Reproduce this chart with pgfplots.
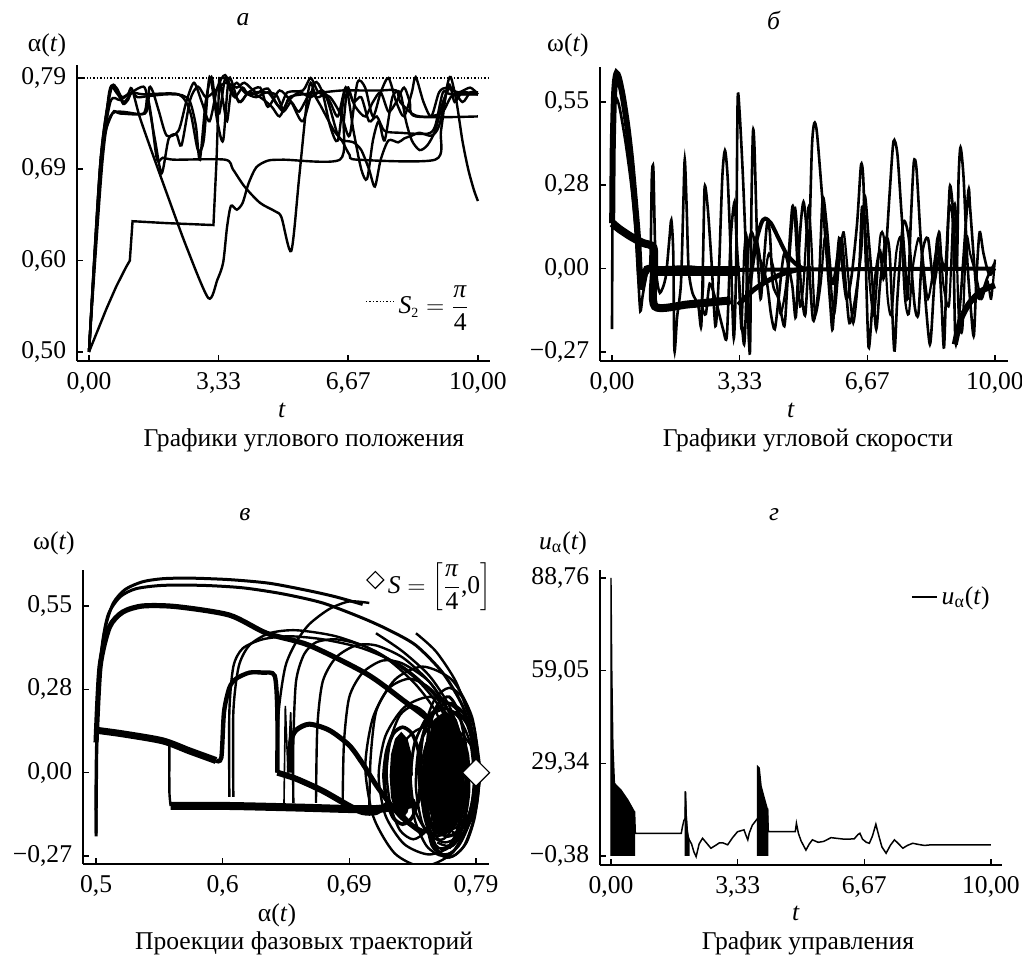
\documentclass[border=0pt]{standalone}
\usepackage{fontspec}
\setmainfont{Liberation Serif}
\usepackage{pgfplots}
\pgfplotsset{compat=1.18}

\pgfplotsset{
  panel/.style={
    scale only axis,
    axis lines*=left,
    axis line style={line width=0.8pt},
    tick align=inside,
    major tick length=3pt,
    tick style={line width=0.8pt, black},
    xticklabel style={yshift=-1.5pt},
    yticklabel style={xshift=-1pt},
    legend style={draw=none, fill=none, font=\fontsize{12.8}{15}\selectfont},
    legend cell align=left,
  },
  crv/.style={black, line width=1.2pt, smooth, tension=0.45, no markers},
}

\begin{document}
\fontsize{12.8}{15}\selectfont
\begin{tikzpicture}[font=\fontsize{12.8}{15}\selectfont]
\path[use as bounding box] (0,0) rectangle (511pt,478.5pt);

% ---------- а: angular position ----------
\begin{axis}[panel,
  at={(38.5pt,298pt)}, anchor=south west,
  width=206.5pt, height=148pt,
  xmin=-0.308, xmax=10.31, ymin=0.4906, ymax=0.7985,
  xtick={0,3.3333,6.6667,10}, xticklabels={{0,00},{3,33},{6,67},{10,00}},
  ytick={0.5,0.595,0.69,0.785}, yticklabels={{0,50},{0,60},{0,69},{0,79}},
  legend style={at={(0.975,0.2)}, anchor=east},
  legend image code/.code={\draw[#1] (0pt,0pt) -- (14pt,0pt);},
]
\addplot[densely dotted, line width=0.7pt] coordinates {(-0.15,0.785) (10.31,0.785)};
\addlegendentry{$\mbox{\textit{S}}_{\mbox{\scriptsize 2}}=\displaystyle\frac{\mbox{\textit{π}}}{\mbox{4}}$}
\addplot[crv] coordinates {(0,0.5) (0.25,0.66) (0.5,0.765) (0.63,0.778) (0.75,0.77) (0.88,0.758) (1.0,0.762) (1.1,0.77) (1.25,0.765) (1.5,0.766) (2.0,0.768) (2.4,0.767) (2.6,0.76) (2.75,0.735) (2.85,0.70) (3.0,0.76) (3.15,0.786) (3.25,0.76) (3.35,0.748) (3.5,0.785) (3.6,0.775) (3.75,0.765) (3.95,0.775) (4.1,0.768) (4.4,0.77) (4.8,0.768) (5.0,0.752) (5.15,0.765) (5.5,0.768) (6.0,0.77) (6.5,0.772) (7.0,0.772) (7.5,0.772) (7.9,0.772) (8.0,0.76) (8.3,0.748) (8.5,0.745) (8.8,0.745) (9.1,0.75) (9.3,0.765) (9.5,0.768) (10,0.768)};
\addplot[crv] coordinates {(0,0.5) (0.3,0.69) (0.55,0.76) (0.8,0.762) (1.0,0.768) (1.1,0.774) (1.3,0.745) (1.6,0.71) (2.0,0.665) (2.5,0.61) (3.07,0.556) (3.3,0.575) (3.45,0.593) (3.55,0.63) (3.65,0.652) (3.8,0.648) (3.95,0.655) (4.1,0.675) (4.3,0.692) (4.6,0.699) (5.0,0.70) (6.45,0.70) (6.55,0.74) (6.65,0.775) (6.8,0.76) (7.0,0.765) (7.2,0.74) (7.4,0.745) (7.6,0.73) (8.0,0.728) (8.7,0.727) (8.9,0.735) (9.1,0.77) (9.3,0.768) (10,0.768)};
\addplot[black, line width=1.2pt] coordinates {(0,0.5) (0.2,0.52) (0.45,0.545) (0.7,0.568) (0.95,0.588) (1.05,0.595) (1.12,0.636) (2.0,0.634) (3.2,0.632) (3.28,0.7) (3.35,0.786)};
\addplot[crv] coordinates {(3.35,0.786) (3.45,0.76) (3.55,0.74) (3.65,0.77) (3.8,0.78) (4.0,0.77) (4.3,0.765) (4.6,0.77) (4.9,0.755) (5.1,0.77) (5.5,0.772) (5.7,0.785) (5.9,0.77) (6.2,0.765) (6.5,0.745) (6.7,0.725) (6.9,0.78) (7.1,0.775) (7.3,0.745) (7.5,0.77) (7.7,0.785) (7.9,0.76) (8.1,0.745) (8.3,0.77) (8.4,0.786) (8.6,0.76) (8.8,0.745) (9.0,0.77) (9.2,0.775) (9.5,0.77) (9.8,0.775) (10,0.768)};
\addplot[crv] coordinates {(0,0.5) (0.3,0.7) (0.6,0.748) (0.8,0.748) (1.4,0.748) (1.5,0.765) (1.6,0.745) (1.75,0.7) (1.9,0.702) (2.2,0.70) (3.5,0.70) (3.7,0.69) (4.0,0.672) (4.4,0.655) (4.8,0.646) (4.95,0.64) (5.2,0.605) (5.4,0.68) (5.6,0.76) (5.7,0.78) (5.85,0.765) (6.1,0.765) (6.4,0.725) (6.55,0.72) (6.8,0.718) (7.0,0.71) (7.2,0.69) (7.35,0.672) (7.5,0.7) (7.7,0.72) (7.95,0.718) (8.1,0.722) (8.3,0.725) (8.5,0.728) (8.8,0.725) (9.0,0.735) (9.25,0.778) (9.4,0.76) (9.6,0.77) (10,0.768)};
\addplot[crv] coordinates {(0,0.5) (0.3,0.7) (0.55,0.772) (0.7,0.77) (0.9,0.76) (1.1,0.77) (1.4,0.776) (1.5,0.765) (1.7,0.72) (1.87,0.686) (2.05,0.722) (2.25,0.726) (2.38,0.715) (2.6,0.762) (2.8,0.776) (3.0,0.765) (3.2,0.77) (3.5,0.78) (3.8,0.775) (4.0,0.78) (4.3,0.77) (4.6,0.774) (4.8,0.76) (5.0,0.75) (5.2,0.76) (5.4,0.75) (5.7,0.77) (5.9,0.76) (6.1,0.745) (6.3,0.73) (6.5,0.72) (6.7,0.705) (6.9,0.70) (8.9,0.70) (9.05,0.73) (9.2,0.775) (9.3,0.786) (9.45,0.76) (9.6,0.72) (9.75,0.69) (9.9,0.668) (10,0.657)};
\addplot[crv] coordinates {(0,0.5) (0.35,0.7) (0.6,0.748) (1.44,0.748) (1.55,0.775) (1.65,0.77) (1.8,0.75) (2.0,0.725) (2.3,0.73) (2.5,0.76) (2.7,0.78) (2.9,0.76) (3.1,0.74) (3.3,0.775) (3.5,0.788) (3.7,0.77) (3.9,0.76) (4.1,0.77) (4.4,0.765) (4.7,0.755) (4.9,0.745) (5.1,0.76) (5.4,0.77) (5.7,0.765) (6.0,0.772) (6.2,0.76) (6.4,0.745) (6.6,0.775) (6.85,0.755) (7.1,0.745) (7.3,0.76) (7.5,0.77) (7.7,0.75) (7.9,0.76) (8.1,0.775) (8.25,0.76) (8.4,0.745) (10,0.745)};
\addplot[crv] coordinates {(0,0.5) (0.3,0.7) (0.55,0.77) (0.7,0.775) (0.85,0.765) (1.1,0.77) (1.4,0.768) (2.3,0.768) (2.6,0.75) (2.8,0.71) (2.95,0.72) (3.1,0.786) (3.3,0.74) (3.45,0.72) (3.6,0.785) (3.85,0.76) (4.1,0.77) (4.4,0.775) (4.6,0.755) (4.9,0.772) (5.2,0.76) (5.5,0.74) (5.8,0.78) (6.0,0.77) (6.2,0.735) (6.4,0.72) (6.6,0.775) (6.8,0.73) (7.0,0.69) (7.15,0.68) (7.3,0.72) (7.45,0.74) (7.6,0.72) (7.8,0.765) (8.0,0.77) (8.15,0.74) (8.3,0.72) (8.5,0.71) (8.7,0.715) (8.9,0.73) (9.1,0.76) (9.3,0.775) (9.6,0.76) (9.8,0.77) (10,0.77)};
\end{axis}

% ---------- б: angular velocity ----------
\begin{axis}[panel,
  at={(300pt,298pt)}, anchor=south west,
  width=204pt, height=147pt,
  xmin=-0.313, xmax=10.34, ymin=-0.305, ymax=0.6655,
  xtick={0,3.3333,6.6667,10}, xticklabels={{0,00},{3,33},{6,67},{10,00}},
  ytick={-0.275,0,0.275,0.55}, yticklabels={{−0,27},{0,00},{0,28},{0,55}},
]
\addplot[crv, line width=1.3pt] coordinates {(0,-0.2) (0.03,0.45) (0.1,0.56) (0.2,0.53) (0.35,0.42) (0.5,0.28) (0.6,0.15) (0.68,-0.02) (0.74,-0.14) (0.8,-0.09) (0.9,-0.02) (1.0,0.02) (1.04,0.3) (1.08,0.33) (1.12,0.1) (1.16,-0.02) (1.25,-0.08) (1.4,-0.03) (1.5,0.1) (1.55,0.16) (1.6,0.05) (1.63,-0.27) (1.7,-0.16) (1.8,-0.05) (1.86,0.2) (1.9,0.36) (1.95,0.2) (2.0,0.0) (2.1,-0.08) (2.25,-0.12) (2.33,-0.19) (2.38,0.05) (2.42,0.27) (2.5,0.2) (2.6,0.02) (2.7,-0.19) (2.78,-0.05) (2.88,0.3) (2.95,0.39) (3.02,0.3) (3.1,0.05) (3.18,-0.23) (3.24,0.0) (3.28,0.55) (3.33,0.52) (3.42,0.3) (3.5,0.05) (3.6,-0.28) (3.64,0.2) (3.68,0.45) (3.72,0.4) (3.8,0.05) (3.88,-0.1) (3.95,0.0) (4.05,0.15) (4.12,0.12) (4.2,-0.05) (4.35,-0.1) (4.5,-0.19) (4.58,-0.05) (4.7,0.15) (4.78,0.2) (4.85,0.1) (4.95,-0.08) (5.05,-0.15) (5.15,0.1) (5.22,0.4) (5.28,0.48) (5.35,0.45) (5.48,0.25) (5.6,0.05) (5.7,-0.12) (5.76,-0.2) (5.85,-0.02) (5.93,0.1) (6.0,0.02) (6.12,-0.1) (6.25,-0.03) (6.4,0.15) (6.5,0.34) (6.56,0.3) (6.62,0.05) (6.7,-0.26) (6.8,-0.12) (6.9,0.0) (7.0,0.06) (7.1,-0.03) (7.25,0.25) (7.35,0.42) (7.45,0.38) (7.55,0.2) (7.65,0.02) (7.72,-0.1) (7.8,0.15) (7.88,0.35) (7.95,0.33) (8.05,0.12) (8.15,-0.05) (8.3,-0.25) (8.4,-0.08) (8.5,0.1) (8.6,-0.1) (8.67,-0.26) (8.75,0.05) (8.82,0.27) (8.9,0.2) (9.0,0.0) (9.05,0.3) (9.1,0.4) (9.18,0.3) (9.28,0.02) (9.38,-0.15) (9.45,-0.22) (9.52,-0.02) (9.6,0.12) (9.7,0.05) (9.85,-0.02) (10,0.0)};
\addplot[crv, line width=1.3pt] coordinates {(1.1,0.0) (2.3,0.0) (2.35,-0.12) (2.45,-0.15) (2.55,-0.05) (2.7,-0.1) (2.9,-0.2) (3.0,-0.22) (3.1,0.1) (3.2,0.22) (3.25,0.1) (3.3,0.0) (3.45,-0.25) (3.55,0.05) (3.65,0.12) (3.8,0.05) (3.9,0.02) (4.05,-0.05) (4.15,-0.15) (4.25,-0.2) (4.35,-0.1) (4.5,0.05) (4.7,-0.05) (4.8,-0.16) (4.9,0.1) (5.0,0.22) (5.1,0.1) (5.25,-0.17) (5.4,-0.05) (5.5,0.23) (5.6,0.15) (5.75,-0.05) (5.9,0.05) (6.0,0.1) (6.1,-0.05) (6.2,-0.18) (6.35,-0.1) (6.5,0.05) (6.6,0.24) (6.7,0.1) (6.8,-0.05) (6.9,-0.2) (7.0,-0.05) (7.15,0.1) (7.25,0.05) (7.37,-0.27) (7.45,-0.1) (7.6,0.15) (7.75,0.1) (7.9,-0.12) (8.0,-0.15) (8.1,0.05) (8.25,0.1) (8.4,-0.05) (8.55,0.05) (8.7,0.0) (8.8,0.2) (8.9,0.15) (8.97,-0.245) (9.1,-0.1) (9.3,0.25) (9.35,0.2) (9.5,-0.05) (9.6,-0.1) (9.8,-0.03) (10,0.02)};
\addplot[crv, line width=1.1pt] coordinates {(3.3,0.0) (3.38,-0.2) (3.45,0.05) (3.52,0.1) (3.58,-0.25) (3.65,0.0) (3.75,0.1) (3.85,0.05) (3.95,-0.05) (4.1,0.05) (4.3,-0.05) (4.4,-0.15) (4.55,-0.05) (4.7,0.2) (4.78,0.15) (4.9,-0.12) (5.0,-0.05) (5.12,0.2) (5.2,0.1) (5.3,-0.15) (5.45,-0.05) (5.55,0.1) (5.65,0.05) (5.8,-0.15) (5.95,0.05) (6.05,0.12) (6.15,0.0) (6.3,-0.18) (6.45,0.0) (6.52,0.2) (6.6,0.15) (6.75,-0.08) (6.85,-0.15) (7.0,0.1) (7.1,0.1) (7.2,-0.1) (7.3,-0.15) (7.42,0.05) (7.55,0.1) (7.65,-0.1) (7.75,-0.15) (7.85,0.0) (8.0,0.1) (8.1,0.05) (8.25,-0.1) (8.45,0.05) (8.55,0.12) (8.65,-0.05) (8.8,-0.12) (8.9,0.15) (8.97,0.2) (9.05,-0.15) (9.15,-0.2) (9.25,0.1) (9.35,0.05) (9.5,-0.02) (9.65,-0.1) (9.8,-0.04) (9.9,-0.1) (10,0.03)};
\addplot[crv, line width=2pt] coordinates {(3.6,-0.05) (3.75,0.08) (3.9,0.15) (4.0,0.165) (4.15,0.15) (4.35,0.1) (4.55,0.05) (4.8,0.015) (5.0,0.0)};
\addplot[crv, line width=3pt] coordinates {(0.005,0.15) (0.02,0.4) (0.05,0.56) (0.08,0.62) (0.12,0.645) (0.18,0.63) (0.28,0.57) (0.4,0.47) (0.5,0.36) (0.6,0.22) (0.68,0.1) (0.72,0.0) (0.76,-0.06) (0.82,-0.04) (0.9,0.0) (1.1,0.0)};
\addplot[black, line width=5pt] coordinates {(1.1,-0.008) (3.33,-0.008)};
\addplot[black, line width=2pt] coordinates {(3.33,-0.004) (10,0.0)};
\addplot[crv, line width=4pt] coordinates {(0.01,0.15) (0.2,0.13) (0.5,0.105) (0.8,0.085) (1.08,0.07) (1.1,0.0) (1.12,-0.125) (2.0,-0.118) (3.1,-0.105)};
\addplot[crv, line width=2.5pt] coordinates {(3.3,-0.12) (3.45,-0.1) (3.7,-0.07) (4.0,-0.045) (4.4,-0.02) (4.8,-0.005) (5.2,0)};
\addplot[crv, line width=3pt] coordinates {(8.95,-0.25) (9.1,-0.17) (9.3,-0.12) (9.5,-0.09) (9.7,-0.07) (10,-0.055)};
\end{axis}

% ---------- в: phase portraits ----------
\begin{axis}[panel,
  at={(41.5pt,46.5pt)}, anchor=south west,
  width=203pt, height=147pt,
  xmin=0.4902, xmax=0.7948, ymin=-0.3014, ymax=0.6688,
  xtick={0.5,0.595,0.69,0.785}, xticklabels={{0,5},{0,6},{0,69},{0,79}},
  ytick={-0.275,0,0.275,0.55}, yticklabels={{−0,27},{0,00},{0,28},{0,55}},
  clip mode=individual,
  legend style={at={(1.03,0.966)}, anchor=east},
]
\addlegendimage{only marks, mark=square*, mark size=3pt, mark options={rotate=45, fill=white, draw=black, line width=0.6pt}}
\addlegendentry{$\mbox{\textit{S}}=\left[\displaystyle\frac{\mbox{\textit{π}}}{\mbox{4}}\mbox{,0}\right]$}
% arcs
\addplot[crv, line width=1.5pt] coordinates {(0.5,-0.21) (0.5,0.0) (0.501,0.2) (0.503,0.35) (0.507,0.48) (0.513,0.56) (0.522,0.605) (0.535,0.63) (0.55,0.64) (0.57,0.642) (0.6,0.637) (0.63,0.625) (0.66,0.6) (0.68,0.58) (0.70,0.555)};
\addplot[crv, line width=1.5pt] coordinates {(0.5,-0.2) (0.501,0.2) (0.504,0.4) (0.509,0.52) (0.518,0.58) (0.53,0.607) (0.55,0.618) (0.58,0.618) (0.61,0.61) (0.64,0.59) (0.67,0.56) (0.70,0.51) (0.72,0.47) (0.74,0.42) (0.76,0.33) (0.775,0.22) (0.783,0.1) (0.785,0.0) (0.782,-0.1) (0.776,-0.2) (0.768,-0.26) (0.76,-0.27) (0.752,-0.24) (0.748,-0.15) (0.747,0.0) (0.75,0.15) (0.757,0.23) (0.765,0.25) (0.772,0.2) (0.777,0.1) (0.778,0.0) (0.775,-0.1) (0.768,-0.18) (0.762,-0.19) (0.757,-0.12) (0.756,0.0) (0.76,0.1) (0.766,0.12) (0.77,0.05) (0.77,-0.03) (0.766,-0.08) (0.764,-0.02)};
\addplot[crv, line width=2.6pt] coordinates {(0.5,0.1) (0.503,0.35) (0.51,0.48) (0.52,0.53) (0.535,0.55) (0.56,0.548) (0.6,0.52) (0.628,0.46) (0.66,0.42) (0.703,0.326) (0.73,0.24) (0.753,0.16) (0.77,0.05) (0.775,-0.05) (0.77,-0.15) (0.76,-0.2) (0.75,-0.16) (0.745,-0.05) (0.748,0.06)};
\addplot[crv] coordinates {(0.636,0.0) (0.637,0.2) (0.642,0.35) (0.65,0.43) (0.66,0.49) (0.675,0.54) (0.69,0.565) (0.705,0.56)};
\addplot[crv] coordinates {(0.603,-0.08) (0.603,0.2) (0.607,0.35) (0.615,0.42) (0.63,0.46) (0.65,0.47) (0.68,0.45) (0.71,0.4) (0.74,0.31) (0.76,0.2) (0.772,0.05) (0.772,-0.1) (0.765,-0.2) (0.757,-0.22) (0.75,-0.15) (0.748,0.0) (0.752,0.12) (0.76,0.16) (0.768,0.1) (0.77,0.0)};
\addplot[crv] coordinates {(0.648,-0.1) (0.648,0.1) (0.65,0.3) (0.656,0.39) (0.665,0.43) (0.68,0.44) (0.70,0.42) (0.72,0.37) (0.74,0.29) (0.755,0.2) (0.765,0.08) (0.768,-0.05) (0.763,-0.17) (0.755,-0.21) (0.745,-0.17) (0.74,-0.05) (0.742,0.08) (0.75,0.15) (0.76,0.14) (0.765,0.05)};
\addplot[crv] coordinates {(0.6,-0.08) (0.6,0.2) (0.603,0.35) (0.61,0.41) (0.625,0.44) (0.645,0.45) (0.67,0.44) (0.7,0.41) (0.73,0.35) (0.755,0.25) (0.77,0.12) (0.774,0.0) (0.77,-0.12) (0.762,-0.2) (0.752,-0.2) (0.745,-0.1) (0.744,0.02) (0.748,0.1)};
\addplot[crv] coordinates {(0.665,-0.1) (0.666,0.15) (0.67,0.3) (0.68,0.38) (0.695,0.42) (0.71,0.42) (0.73,0.38) (0.75,0.3) (0.765,0.2) (0.775,0.08) (0.778,-0.05) (0.773,-0.17) (0.765,-0.24) (0.756,-0.23)};
\addplot[crv] coordinates {(0.685,-0.1) (0.686,0.1) (0.69,0.25) (0.70,0.33) (0.715,0.37) (0.73,0.36) (0.75,0.3) (0.765,0.2) (0.776,0.07) (0.779,-0.06) (0.774,-0.18) (0.765,-0.25)};
\addplot[crv] coordinates {(0.705,-0.12) (0.706,0.05) (0.71,0.2) (0.72,0.28) (0.735,0.31) (0.75,0.28) (0.765,0.2) (0.776,0.08) (0.78,-0.05) (0.776,-0.17) (0.768,-0.24) (0.758,-0.25)};
\addplot[crv] coordinates {(0.71,0.46) (0.73,0.4) (0.75,0.32) (0.765,0.22) (0.775,0.1) (0.778,0.0) (0.775,-0.1) (0.77,-0.2) (0.763,-0.25) (0.755,-0.24) (0.748,-0.15)};
\addplot[crv] coordinates {(0.74,0.46) (0.755,0.4) (0.77,0.3) (0.78,0.18) (0.786,0.05) (0.787,-0.05) (0.784,-0.15) (0.778,-0.23) (0.77,-0.27) (0.762,-0.28) (0.755,-0.25) (0.752,-0.2)};
\addplot[black, line width=0.8pt] coordinates {(0.641,-0.1) (0.642,0.22) (0.644,0.0) (0.646,0.2) (0.648,-0.1)};
% thick bands
\addplot[crv, line width=3.5pt] coordinates {(0.5,0.14) (0.52,0.128) (0.55,0.105) (0.57,0.072) (0.59,0.04)};
\addplot[crv, line width=2.2pt] coordinates {(0.59,0.04) (0.594,0.05) (0.596,0.2) (0.6,0.28) (0.605,0.31) (0.615,0.33) (0.625,0.33) (0.634,0.32) (0.636,0.2) (0.636,0.0)};
\addplot[crv, line width=3pt] coordinates {(0.636,0.0) (0.65,-0.02) (0.67,-0.06) (0.69,-0.11) (0.70,-0.13) (0.71,-0.13) (0.72,-0.1)};
\addplot[crv, line width=1.2pt] coordinates {(0.555,0.1) (0.555,-0.06) (0.556,-0.11)};
\addplot[crv, line width=4pt] coordinates {(0.556,-0.11) (0.6,-0.11) (0.65,-0.115) (0.69,-0.12) (0.71,-0.12) (0.73,-0.11) (0.74,-0.1)};
\addplot[crv, line width=2.5pt] coordinates {(0.645,0.0) (0.646,0.1) (0.65,0.14) (0.66,0.16) (0.675,0.14) (0.69,0.09) (0.70,0.03) (0.71,-0.04) (0.72,-0.1) (0.73,-0.15) (0.745,-0.2)};
% loops of the cluster
\addplot[crv] coordinates {(0.787,0) (0.784,0.14) (0.776,0.242) (0.765,0.28) (0.754,0.242) (0.746,0.14) (0.743,0) (0.746,-0.14) (0.754,-0.242) (0.765,-0.28) (0.776,-0.242) (0.784,-0.14) (0.787,0)};
\addplot[crv] coordinates {(0.788,-0.01) (0.785,0.10) (0.775,0.18) (0.762,0.21) (0.749,0.18) (0.739,0.10) (0.736,-0.01) (0.739,-0.12) (0.749,-0.20) (0.762,-0.23) (0.775,-0.20) (0.785,-0.12) (0.788,-0.01)};
\addplot[crv] coordinates {(0.788,-0.02) (0.784,0.07) (0.772,0.136) (0.755,0.16) (0.739,0.136) (0.726,0.07) (0.722,-0.02) (0.726,-0.11) (0.739,-0.176) (0.755,-0.20) (0.772,-0.176) (0.784,-0.11) (0.788,-0.02)};
\addplot[crv] coordinates {(0.784,0) (0.782,0.1) (0.777,0.173) (0.77,0.2) (0.763,0.173) (0.758,0.1) (0.756,0) (0.758,-0.1) (0.763,-0.173) (0.77,-0.2) (0.777,-0.173) (0.782,-0.1) (0.784,0)};
\addplot[crv] coordinates {(0.788,-0.01) (0.783,0.12) (0.769,0.215) (0.75,0.25) (0.731,0.215) (0.717,0.12) (0.712,-0.01) (0.717,-0.14) (0.731,-0.235) (0.75,-0.27) (0.769,-0.235) (0.783,-0.14) (0.788,-0.01)};
\addplot[crv] coordinates {(0.788,0.02) (0.782,0.185) (0.767,0.306) (0.745,0.35) (0.724,0.306) (0.708,0.185) (0.702,0.02) (0.708,-0.145) (0.724,-0.266) (0.745,-0.31) (0.767,-0.266) (0.782,-0.145) (0.788,0.02)};
\addplot[crv] coordinates {(0.780,0) (0.779,0.06) (0.776,0.104) (0.772,0.12) (0.768,0.104) (0.765,0.06) (0.764,0) (0.765,-0.06) (0.768,-0.104) (0.772,-0.12) (0.776,-0.104) (0.779,-0.06) (0.780,0)};
\addplot[crv, line width=1.8pt] coordinates {(0.744,-0.01) (0.742,0.07) (0.737,0.129) (0.73,0.15) (0.723,0.129) (0.718,0.07) (0.716,-0.01) (0.718,-0.09) (0.723,-0.149) (0.73,-0.17) (0.737,-0.149) (0.742,-0.09) (0.744,-0.01)};
\addplot[crv] coordinates {(0.784,-0.03) (0.781,0.093) (0.772,0.182) (0.76,0.215) (0.748,0.182) (0.739,0.093) (0.736,-0.03) (0.739,-0.153) (0.748,-0.242) (0.76,-0.275) (0.772,-0.242) (0.781,-0.153) (0.784,-0.03)};
\addplot[crv] coordinates {(0.758,0) (0.755,0.11) (0.748,0.19) (0.738,0.22) (0.728,0.19) (0.721,0.11) (0.718,0) (0.721,-0.11) (0.728,-0.19) (0.738,-0.22) (0.748,-0.19) (0.755,-0.11) (0.758,0)};
\addplot[crv, line width=1.6pt] coordinates {(0.786,0.01) (0.783,0.12) (0.775,0.2) (0.764,0.23) (0.753,0.2) (0.745,0.12) (0.742,0.01) (0.745,-0.1) (0.753,-0.18) (0.764,-0.21) (0.775,-0.18) (0.783,-0.1) (0.786,0.01)};
\addplot[fill=black, draw=black, line width=1pt] coordinates {(0.777,0.0) (0.775,0.1) (0.77,0.173) (0.762,0.2) (0.754,0.173) (0.749,0.1) (0.747,0.0) (0.749,-0.1) (0.754,-0.173) (0.762,-0.2) (0.77,-0.173) (0.775,-0.1)};
\addplot[fill=black, draw=black, line width=1pt] coordinates {(0.737,-0.01) (0.736,0.06) (0.733,0.11) (0.729,0.13) (0.725,0.11) (0.722,0.06) (0.721,-0.01) (0.722,-0.08) (0.725,-0.13) (0.729,-0.15) (0.733,-0.13) (0.736,-0.08)};
\addplot[only marks, mark=square*, mark size=4.8pt, mark options={rotate=45, fill=white, draw=black, line width=0.6pt}] coordinates {(0.785,0)};
\end{axis}

% ---------- г: control ----------
\begin{axis}[panel,
  at={(300pt,46pt)}, anchor=south west,
  width=201pt, height=147.5pt,
  xmin=-0.289, xmax=10.29, ymin=-3.27, ymax=91.32,
  xtick={0,3.3333,6.6667,10}, xticklabels={{0,00},{3,33},{6,67},{10,00}},
  ytick={-0.38,29.333,59.047,88.76}, yticklabels={{−0,38},{29,34},{59,05},{88,76}},
  legend style={at={(0.995,0.908)}, anchor=east},
  legend image code/.code={\draw[#1] (0pt,0pt) -- (12.5pt,0pt);},
]
\addplot[black, line width=0.75pt] coordinates {(0.62,13.9) (0.64,6.9) (1.85,6.9) (1.88,9.0) (1.92,11.0) (1.95,11.7) (1.96,20.3) (1.98,12) (2.02,6) (2.06,4.8) (2.12,3.5) (2.18,1.0) (2.24,-0.6) (2.32,3.5) (2.41,5.3) (2.5,4.0) (2.63,2.1) (2.75,3.0) (2.85,3.8) (2.95,3.8) (3.07,3.2) (3.2,5.5) (3.33,7.4) (3.5,8.0) (3.56,6.0) (3.6,4.8) (3.64,7.0) (3.72,9.5) (3.86,11.7) (4.12,14.4) (4.14,7.4) (4.85,7.4) (4.88,10.1) (4.93,7.0) (5.0,4.5) (5.13,1.5) (5.22,3.5) (5.3,4.8) (5.45,4.0) (5.6,4.3) (5.79,5.5) (6.0,5.2) (6.14,5.0) (6.4,5.1) (6.5,6.5) (6.55,6.9) (6.62,5.0) (6.72,4.0) (6.8,3.7) (6.88,6.0) (6.97,9.8) (7.05,6.0) (7.13,2.5) (7.24,0.5) (7.35,3.0) (7.46,4.8) (7.57,3.5) (7.68,2.1) (7.8,3.0) (7.94,3.7) (8.1,3.3) (8.25,3.0) (8.42,3.2) (10,3.2)};
\addlegendentry{\textit{u}\textsubscript{α}(\textit{t})}
\addplot[fill=black, draw=black, line width=0.7pt] coordinates {(0,-0.38) (0,88.76) (0.02,60) (0.05,35) (0.09,22.9) (0.26,20.8) (0.44,17.6) (0.61,13.9) (0.62,-0.38)};
\addplot[fill=black, draw=black, line width=0.7pt] coordinates {(1.955,-0.38) (1.955,20.3) (1.975,14) (2.0,8) (2.05,4.8) (2.05,-0.38)};
\addplot[fill=black, draw=black, line width=0.7pt] coordinates {(3.86,-0.38) (3.86,28.3) (3.9,27.8) (3.95,22) (4.0,19.7) (4.06,17) (4.12,14.4) (4.12,-0.38)};
\end{axis}

% ---------- titles and labels ----------
\node at (121.5pt,468.5pt) {\textit{а}};
\node at (387pt,468.5pt) {\textit{б}};
\node at (122.5pt,221pt) {\textit{в}};
\node at (387pt,221pt) {\textit{г}};
\node at (23.5pt,456pt) {α(\textit{t})};
\node at (284pt,456pt) {ω(\textit{t})};
\node at (27pt,207pt) {ω(\textit{t})};
\node at (281.5pt,207pt) {\textit{u}\textsubscript{α}(\textit{t})};
\node at (141pt,273.5pt) {\textit{t}};
\node at (152pt,258.5pt) {Графики углового положения};
\node at (395.5pt,273.5pt) {\textit{t}};
\node at (404pt,258.5pt) {Графики угловой скорости};
\node at (138.5pt,21pt) {α(\textit{t})};
\node at (152pt,7pt) {Проекции фазовых траекторий};
\node at (398pt,22pt) {\textit{t}};
\node at (404pt,7pt) {График управления};
\end{tikzpicture}
\end{document}
